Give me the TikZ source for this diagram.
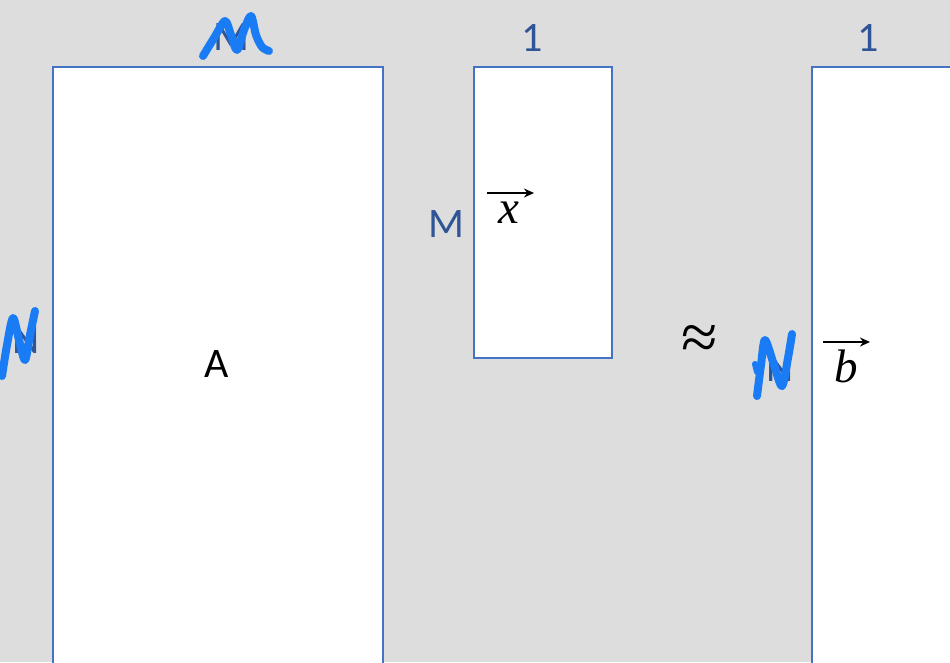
\documentclass[tikz,border=0pt]{standalone}
\usepackage{fontspec}
\usetikzlibrary{arrows.meta}
\setmainfont{Carlito}
\newfontfamily\mathserif{Liberation Serif}
\definecolor{bgc}{HTML}{DDDDDD}
\definecolor{boxc}{HTML}{4472C4}
\definecolor{labc}{HTML}{2F5597}
\definecolor{penc}{HTML}{1A7CF5}
\begin{document}
\begin{tikzpicture}[x=1pt,y=-1pt,
  matbox/.style={draw=boxc, line width=2pt, fill=white, inner sep=0pt},
  dimlab/.style={text=labc, font=\fontsize{42}{46}\selectfont, inner sep=0pt},
  mathlab/.style={font=\mathserif\itshape\fontsize{47}{50}\selectfont, inner sep=0pt},
  vecarrow/.style={-{Stealth[length=10pt,width=9pt]}, line width=1.8pt},
  pen/.style={penc, line width=8pt, line cap=round, line join=round}]
\useasboundingbox (0,0) rectangle (950,662);
\clip (0,0) rectangle (950,662);
\fill[bgc] (0,0) rectangle (950,662);

% matrices
\node[matbox, minimum width=330pt, minimum height=640pt, anchor=north west] (A) at (52,66) {};
\node[matbox, minimum width=138pt, minimum height=291pt, anchor=north west] (X) at (473,66) {};
\node[matbox, minimum width=180pt, minimum height=640pt, anchor=north west] (B) at (811,66) {};

% texts
\node[font=\fontsize{42}{46}\selectfont, inner sep=0pt] (Alab) at (217,364) {A};
\node[dimlab] (xone) at (532,38) {1};
\node[dimlab] (bone) at (868,38) {1};
\node[dimlab] (xM) at (446,224) {M};
\node[dimlab] (AM) at (231,37) {M};
\node[dimlab] (AN) at (26,340) {N};
\node[dimlab] (BN) at (780,368) {N};
\node[mathlab] (xv) at (509,213) {x};
\node[mathlab] (bv) at (846,366) {b};
\node[font=\mathserif\fontsize{66}{70}\selectfont, inner sep=0pt] (approx) at (700,342) {≈};

% vector arrows
\coordinate (xa1) at (487,193);
\coordinate (xa2) at (534,193);
\draw[vecarrow] (xa1) -- (xa2);
\coordinate (ba1) at (823,342);
\coordinate (ba2) at (870,342);
\draw[vecarrow] (ba1) -- (ba2);

% handwritten strokes
\draw[pen] plot[smooth, tension=0.5] coordinates {(203,56) (214,38) (225,21) (231,35) (237,50) (244,30) (251,16) (256,35) (262,47) (269,51)};
\draw[pen] plot[smooth, tension=0.5] coordinates {(2,376) (7,345) (13,318) (19,340) (25,360) (30,335) (35,311)};
\draw[pen] plot[smooth, tension=0.5] coordinates {(757,396) (761,365) (765,340) (774,365) (782,386) (788,358) (792,334)};
\draw[pen, line width=6pt] (755,364) -- (757,372);
\end{tikzpicture}
\end{document}
